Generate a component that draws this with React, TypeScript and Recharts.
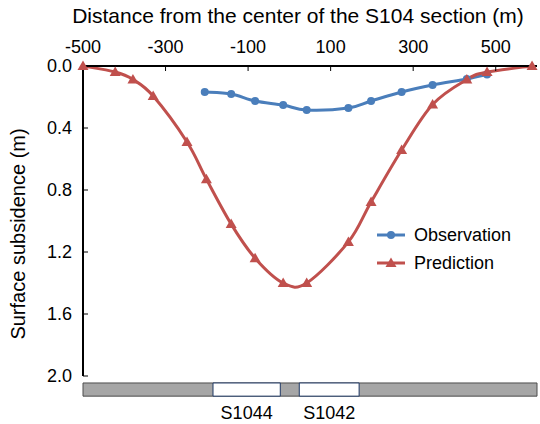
import React from 'react'
import { LineChart, Line, XAxis, YAxis, ReferenceArea } from 'recharts'

document.body.style.margin = '0'

const FONT = '"Liberation Sans", Arial, Helvetica, sans-serif'
const BLUE = '#4a7ebb'
const RED = '#c0504d'

// distance from the section center (m) and subsidence (m)
const obsDistance = [-205, -141, -83, -15, 42, 143, 198, 272, 347, 430, 479]
const obsSubsidence = [0.168, 0.181, 0.226, 0.252, 0.284, 0.271, 0.226, 0.168, 0.123, 0.084, 0.055]

const predDistance = [-500, -422, -379, -330, -248, -201, -141, -83, -15, 42, 143, 198, 272, 347, 430, 479, 588]
const predSubsidence = [0, 0.039, 0.087, 0.194, 0.49, 0.73, 1.02, 1.24, 1.4, 1.4, 1.135, 0.877, 0.542, 0.248, 0.087, 0.039, 0]

const xTicks = [-500, -300, -100, 100, 300, 500]
const yTicks = [0, 0.4, 0.8, 1.2, 1.6, 2.0]

// working faces drawn as a strip under the plot
const panelNames = ['S1044', 'S1042']
const panelStart = [-185, 24]
const panelEnd = [-22, 169]

const obsData = obsDistance.map((d, i) => ({ d, v: obsSubsidence[i] }))
const predData = predDistance.map((d, i) => ({ d, v: predSubsidence[i] }))

// excel-like smoothed line (catmull-rom as cubic bezier)
function smoothCurve(context: any) {
  let pts: number[][] = []
  return {
    areaStart() {},
    areaEnd() {},
    lineStart() {
      pts = []
    },
    point(x: number, y: number) {
      pts.push([x, y])
    },
    lineEnd() {
      if (!pts.length) return
      context.moveTo(pts[0][0], pts[0][1])
      for (let i = 0; i < pts.length - 1; i++) {
        const p0 = pts[Math.max(i - 1, 0)]
        const p1 = pts[i]
        const p2 = pts[i + 1]
        const p3 = pts[Math.min(i + 2, pts.length - 1)]
        context.bezierCurveTo(
          p1[0] + (p2[0] - p0[0]) / 6,
          p1[1] + (p2[1] - p0[1]) / 6,
          p2[0] - (p3[0] - p1[0]) / 6,
          p2[1] - (p3[1] - p1[1]) / 6,
          p2[0],
          p2[1]
        )
      }
    },
  }
}

function TriangleDot(props: any) {
  const { cx, cy, fill } = props
  if (cx == null || cy == null) return null
  return <path d={`M${cx},${cy - 5.5}L${cx + 5.5},${cy + 4}L${cx - 5.5},${cy + 4}Z`} fill={fill} />
}

function XTick(props: any) {
  const { x, y, payload } = props
  return (
    <g>
      {payload.value !== -500 && <line x1={x} x2={x} y1={y} y2={y + 5} stroke="#000" strokeWidth={1} />}
      <text x={x} y={y - 13} textAnchor="middle" fontSize={18} fontFamily={FONT} fill="#000">
        {payload.value}
      </text>
    </g>
  )
}

function YTick(props: any) {
  const { x, y, payload } = props
  return (
    <g>
      {payload.value !== 0 && <line x1={x} x2={x + 5} y1={y} y2={y} stroke="#000" strokeWidth={1} />}
      <text x={x - 11} y={y} dy="0.35em" textAnchor="end" fontSize={18} fontFamily={FONT} fill="#000">
        {Number(payload.value).toFixed(1)}
      </text>
    </g>
  )
}

function XTitle(props: any) {
  const vb = props.viewBox
  return (
    <text x={vb.x + vb.width / 2 - 12} y={vb.y - 13} textAnchor="middle" fontSize={21} fontFamily={FONT} fill="#000">
      Distance from the center of the S104 section (m)
    </text>
  )
}

function YTitle(props: any) {
  const vb = props.viewBox
  const cx = vb.x - 5
  const cy = vb.y + vb.height / 2 + 13
  return (
    <text
      x={cx}
      y={cy}
      transform={`rotate(-90 ${cx} ${cy})`}
      textAnchor="middle"
      dy="0.35em"
      fontSize={20}
      fontFamily={FONT}
      fill="#000"
    >
      Surface subsidence (m)
    </text>
  )
}

function PanelLabel(props: any) {
  const vb = props.viewBox
  return (
    <text x={vb.x + vb.width / 2} y={vb.y + vb.height + 23} textAnchor="middle" fontSize={18} fontFamily={FONT} fill="#000">
      {props.text}
    </text>
  )
}

const legendRows = [
  { name: 'Observation', color: BLUE, marker: 'circle' },
  { name: 'Prediction', color: RED, marker: 'triangle' },
]

function ChartLegend() {
  return (
    <div style={{ position: 'absolute', left: 376, top: 221, fontFamily: FONT, fontSize: 18, color: '#000' }}>
      {legendRows.map((r) => (
        <div key={r.name} style={{ display: 'flex', alignItems: 'center', height: 28 }}>
          <svg width={30} height={14} style={{ marginRight: 8 }}>
            <line x1={1} x2={29} y1={7} y2={7} stroke={r.color} strokeWidth={3} />
            {r.marker === 'circle' ? (
              <circle cx={15} cy={7} r={4} fill={r.color} />
            ) : (
              <path d="M15,1.5L20.5,11L9.5,11Z" fill={r.color} />
            )}
          </svg>
          <span>{r.name}</span>
        </div>
      ))}
    </div>
  )
}

export default function App() {
  return (
    <div style={{ position: 'relative', width: 540, height: 424, background: '#fff' }}>
      <LineChart width={540} height={424} margin={{ top: 36, right: 3, bottom: 48, left: 23 }}>
        <XAxis
          type="number"
          dataKey="d"
          orientation="top"
          domain={[-500, 600]}
          ticks={xTicks}
          interval={0}
          height={30}
          tickSize={0}
          tickMargin={0}
          tickLine={false}
          axisLine={{ stroke: '#000', strokeWidth: 2 }}
          tick={<XTick />}
          label={<XTitle />}
        />
        <YAxis
          type="number"
          reversed
          domain={[0, 2]}
          ticks={yTicks}
          interval={0}
          width={60}
          tickSize={0}
          tickMargin={0}
          tickLine={false}
          axisLine={{ stroke: '#000', strokeWidth: 2 }}
          tick={<YTick />}
          label={<YTitle />}
        />
        <ReferenceArea
          x1={-500}
          x2={600}
          y1={2.045}
          y2={2.13}
          ifOverflow="visible"
          fill="#a6a6a6"
          fillOpacity={1}
          stroke="#4d4d4d"
          strokeWidth={1}
        />
        {panelNames.map((name, i) => (
          <ReferenceArea
            key={name}
            x1={panelStart[i]}
            x2={panelEnd[i]}
            y1={2.045}
            y2={2.13}
            ifOverflow="visible"
            fill="#ffffff"
            fillOpacity={1}
            stroke="#1f3864"
            strokeWidth={1}
            label={<PanelLabel text={name} />}
          />
        ))}
        <Line
          data={obsData}
          dataKey="v"
          name="Observation"
          type={smoothCurve as any}
          stroke={BLUE}
          strokeWidth={3}
          dot={{ r: 4, fill: BLUE, stroke: BLUE, strokeWidth: 0 }}
          isAnimationActive={false}
        />
        <Line
          data={predData}
          dataKey="v"
          name="Prediction"
          type={smoothCurve as any}
          stroke={RED}
          strokeWidth={3}
          dot={<TriangleDot fill={RED} />}
          isAnimationActive={false}
        />
      </LineChart>
      <ChartLegend />
    </div>
  )
}
